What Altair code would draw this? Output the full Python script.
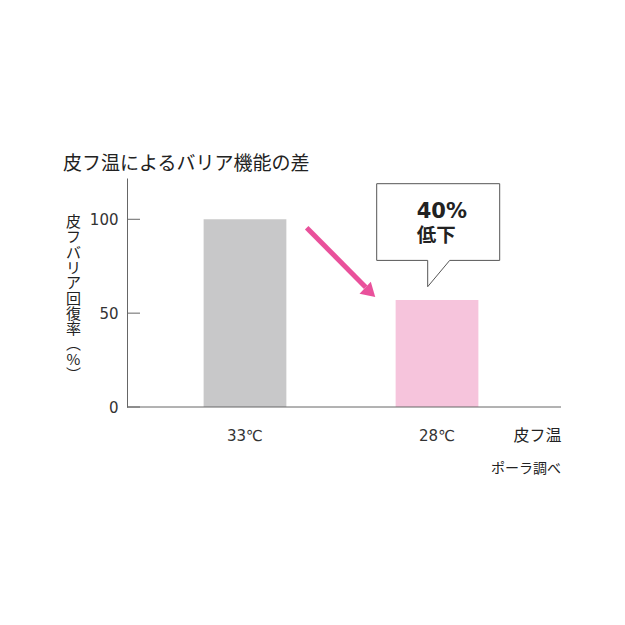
import altair as alt
import pandas as pd

# ---- data ----
temps = ["33℃", "28℃"]
rates = [100, 57]
bar_colors = ["#c8c8c9", "#f6c4dc"]
y_ticks = [0, 50, 100]

title_text = "皮フ温によるバリア機能の差"
y_title_chars = ["皮", "フ", "バ", "リ", "ア", "回", "復", "率", "︵", "%", "︶"]
x_title = "皮フ温"
source_note = "ポーラ調べ"
callout_line1 = "40%"
callout_line2 = "低下"

# annotation geometry (pixels inside the plot area)
arrow_x = [179.7, 238.7]
arrow_y = [49.7, 109.2]
head_x = [243.2]
head_y = [114.4]
box_x = [249.7, 249.7, 372.7, 372.7, 322.7, 300.7, 300.7, 249.7]
box_y = [82.4, 5.7, 5.7, 82.4, 82.4, 108.7, 82.4, 82.4]

PLOT_W = 434
PLOT_H = 229
Y_DOMAIN = [0, 122]

CJK = "Noto Sans CJK JP"
NUM = "DejaVu Sans, Noto Sans CJK JP"

bars_df = pd.DataFrame({"temp": temps, "rate": rates})
ticks_df = pd.DataFrame({"v": y_ticks})
arrow_df = pd.DataFrame({"x": arrow_x, "y": arrow_y})
head_df = pd.DataFrame({"x": head_x, "y": head_y})
box_df = pd.DataFrame({"x": box_x, "y": box_y, "o": list(range(len(box_x)))})

yscale = alt.Scale(domain=Y_DOMAIN, nice=False, zero=True)

bars = alt.Chart(bars_df).mark_bar().encode(
    x=alt.X(
        "temp:N",
        sort=temps,
        scale=alt.Scale(range=[0, 428], paddingInner=0.569, paddingOuter=0.399),
        axis=alt.Axis(
            title=x_title,
            titleX=PLOT_W,
            titleY=28,
            titleAlign="right",
            titleBaseline="middle",
            titleFont=CJK,
            titleFontSize=16,
            titleFontWeight="normal",
            titleColor="#222222",
            labelAngle=0,
            labelFont=NUM,
            labelFontSize=15,
            labelColor="#333333",
            labelPadding=21,
            ticks=False,
            tickSize=0,
            domain=False,
        ),
    ),
    y=alt.Y(
        "rate:Q",
        scale=yscale,
        axis=alt.Axis(
            values=y_ticks,
            title=y_title_chars,
            titleAngle=0,
            titleX=-54,
            titleY=36.5,
            titleAlign="center",
            titleBaseline="top",
            titleLineHeight=15.3,
            titleFont=CJK,
            titleFontSize=15,
            titleFontWeight="normal",
            titleColor="#222222",
            labelFont=NUM,
            labelFontSize=15,
            labelColor="#333333",
            labelPadding=9,
            ticks=False,
            tickSize=0,
            grid=False,
            domainColor="#666666",
            domainWidth=1,
        ),
    ),
    color=alt.Color("temp:N", scale=alt.Scale(domain=temps, range=bar_colors), legend=None),
)

tick_rules = alt.Chart(ticks_df).mark_rule(color="#666666", strokeWidth=1).encode(
    y=alt.Y("v:Q", scale=yscale, axis=None),
    x=alt.value(0),
    x2=alt.value(13),
)

baseline = alt.Chart(bars_df.head(1)).mark_rule(color="#666666", strokeWidth=1).encode(
    y=alt.value(PLOT_H),
    x=alt.value(0),
    x2=alt.value(PLOT_W),
)

arrow = alt.Chart(arrow_df).mark_line(color="#e9519b", strokeWidth=5, strokeCap="butt").encode(
    x=alt.X("x:Q", scale=None, axis=None),
    y=alt.Y("y:Q", scale=None, axis=None),
)

head = alt.Chart(head_df).mark_point(
    shape="M0,-1 L1.2,1 L-1.2,1 Z", filled=True, color="#e9519b", opacity=1, size=190, angle=133
).encode(
    x=alt.X("x:Q", scale=None, axis=None),
    y=alt.Y("y:Q", scale=None, axis=None),
)

box = alt.Chart(box_df).mark_line(color="#555555", strokeWidth=1).encode(
    x=alt.X("x:Q", scale=None, axis=None),
    y=alt.Y("y:Q", scale=None, axis=None),
    order="o:Q",
)

txt1 = alt.Chart(pd.DataFrame({"t": [callout_line1]})).mark_text(
    font="DejaVu Sans", fontSize=21, fontWeight="bold", color="#222222", align="left", baseline="middle"
).encode(text="t:N", x=alt.value(289.7), y=alt.value(34.4))

txt2 = alt.Chart(pd.DataFrame({"t": [callout_line2]})).mark_text(
    font=CJK, fontSize=19.5, fontWeight="bold", color="#222222", align="left", baseline="middle"
).encode(text="t:N", x=alt.value(289.7), y=alt.value(58.4))

note = alt.Chart(pd.DataFrame({"t": [source_note]})).mark_text(
    font=CJK, fontSize=14, color="#222222", align="right", baseline="middle"
).encode(text="t:N", x=alt.value(PLOT_W), y=alt.value(291))

chart = (
    alt.layer(bars, tick_rules, baseline, arrow, head, box, txt1, txt2, note)
    .resolve_scale(x="independent", y="independent")
    .properties(
        width=PLOT_W,
        height=PLOT_H,
        title=alt.TitleParams(
            text=title_text,
            anchor="start",
            frame="group",
            dx=-64,
            dy=23,
            offset=18,
            baseline="middle",
            font=CJK,
            fontSize=19,
            fontWeight="normal",
            color="#222222",
        ),
        autosize=alt.AutoSizeParams(type="none"),
        padding={"left": 119, "top": 170, "right": 50, "bottom": 180},
        background="white",
    )
    .configure_view(stroke=None)
)

chart.save("out.html", embed_options={"renderer": "svg", "actions": False})
